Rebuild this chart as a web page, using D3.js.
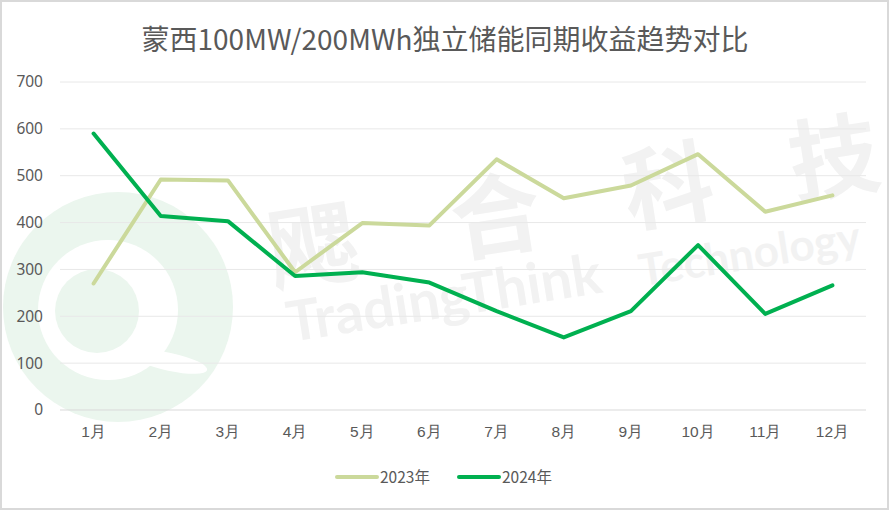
<!DOCTYPE html>
<html><head><meta charset="utf-8">
<script src="https://cdn.jsdelivr.net/npm/d3@7"></script>
<style>body{margin:0;background:#fff;}svg{display:block;font-family:"Noto Sans CJK SC","Noto Sans",sans-serif;}</style>
</head><body>
<script>
const title = "蒙西100MW/200MWh独立储能同期收益趋势对比";
const months = ["1月","2月","3月","4月","5月","6月","7月","8月","9月","10月","11月","12月"];
const series2023 = [270, 492, 490, 294, 399, 394, 535, 452, 479, 546, 423, 458];
const series2024 = [590, 414, 403, 286, 294, 272, 211, 155, 211, 352, 205, 266];
const seriesNames = ["2023年", "2024年"];
const yTicks = [0, 100, 200, 300, 400, 500, 600, 700];

(function(){
const W = 889, H = 510;
const svg = d3.select("body").append("svg").attr("width", W).attr("height", H);
svg.append("rect").attr("x",1).attr("y",1).attr("width",W-2).attr("height",H-2)
  .attr("fill","#fff").attr("stroke","#d9d9d9").attr("stroke-width",2);

const pL = 60, pR = 866, pT = 82, pB = 410;
const x = d3.scaleBand().domain(months).range([pL, pR]);
const y = d3.scaleLinear().domain([0, 700]).range([pB, pT]);

// watermark
const wm = svg.append("g");
wm.append("circle").attr("cx",118).attr("cy",307).attr("r",115).attr("fill","#ebf6ee");
wm.append("circle").attr("cx",108).attr("cy",310).attr("r",70).attr("fill","#fff");
wm.append("ellipse").attr("cx",170).attr("cy",362).attr("rx",38).attr("ry",9)
  .attr("transform","rotate(12 170 362)").attr("fill","#fff");
wm.append("circle").attr("cx",97).attr("cy",311).attr("r",42).attr("fill","#ebf6ee");
[["飔",312,240],["合",495,210],["科",667,180],["技",833,152]].forEach(c=>{
  wm.append("text").attr("transform",`translate(${c[1]},${c[2]}) rotate(-9)`)
    .attr("font-size",90).attr("font-weight","bold").attr("fill","#f2f2f2")
    .attr("text-anchor","middle").attr("dominant-baseline","central").text(c[0]);
});
const wt = wm.append("g").attr("transform","translate(290,342) rotate(-9)")
  .attr("fill","#f2f2f2").attr("font-family","Lato, sans-serif").attr("font-weight","bold");
wt.append("text").attr("x",0).attr("y",0).attr("font-size",56).attr("textLength",318).attr("lengthAdjust","spacingAndGlyphs").text("TradingThink");
wt.append("text").attr("x",356).attr("y",0).attr("font-size",44).text("Technology");

// grid
svg.append("g").selectAll("line").data(yTicks).join("line")
  .attr("x1",pL).attr("x2",pR).attr("y1",d=>y(d)).attr("y2",d=>y(d))
  .attr("stroke", d=>d===0?"#d9d9d9":"#e8e8e8").attr("stroke-width",1);

// y axis labels
const yAxis = d3.axisLeft(y).tickValues(yTicks).tickSize(0).tickPadding(17);
const yg = svg.append("g").attr("transform",`translate(${pL},0)`).call(yAxis);
yg.select(".domain").remove();
yg.selectAll("text").attr("font-size",15.5).attr("fill","#595959").attr("font-family","'Noto Sans','Noto Sans CJK SC',sans-serif");

// x axis labels
const xAxis = d3.axisBottom(x).tickSize(0).tickPadding(16);
const xg = svg.append("g").attr("transform",`translate(0,${pB})`).call(xAxis);
xg.select(".domain").remove();
xg.selectAll("text").attr("font-size",15.5).attr("fill","#595959");

const line = d3.line().x((d,i)=>x(months[i])+x.bandwidth()/2).y(d=>y(d));
const colors = ["#cbd99b", "#00b050"];
[series2023, series2024].forEach((s,k)=>{
  svg.append("path").datum(s).attr("d",line).attr("fill","none")
    .attr("stroke",colors[k]).attr("stroke-width",4).attr("stroke-linejoin","round").attr("stroke-linecap","round");
});

// title
svg.append("text").attr("x",445).attr("y",50).attr("text-anchor","middle")
  .attr("font-size",28).attr("fill","#595959").text(title);

// legend
const lg = svg.append("g");
const items = [{x:337},{x:459}];
seriesNames.forEach((n,k)=>{
  const lx = items[k].x;
  lg.append("line").attr("x1",lx).attr("x2",lx+40).attr("y1",477).attr("y2",477)
    .attr("stroke",colors[k]).attr("stroke-width",4).attr("stroke-linecap","round");
  lg.append("text").attr("x",lx+43).attr("y",483).attr("font-size",15.5).attr("fill","#595959").text(n);
});
})();
</script>
</body></html>
